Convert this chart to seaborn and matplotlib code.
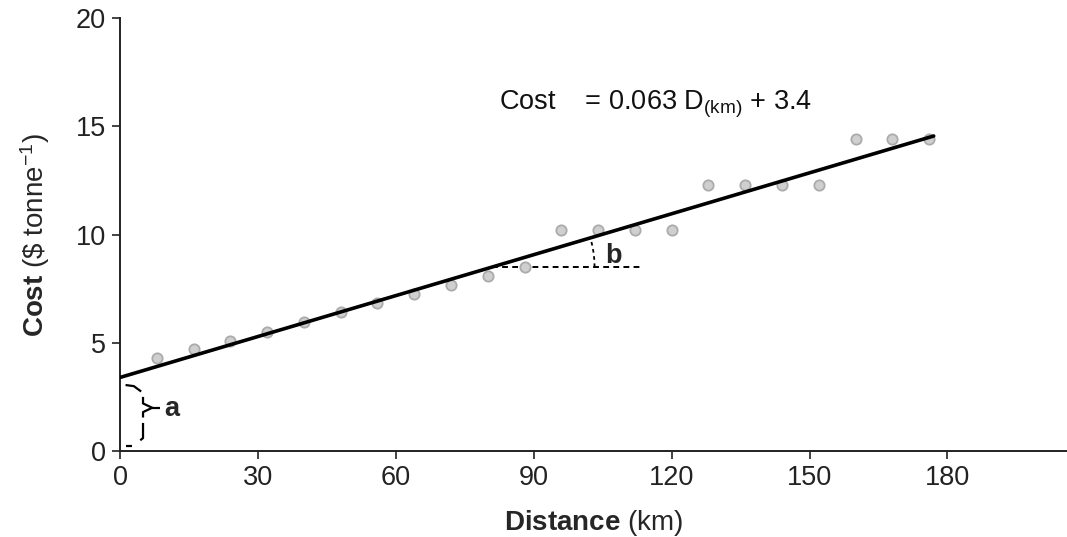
import matplotlib
matplotlib.use("Agg")
import matplotlib.pyplot as plt
import numpy as np
import pandas as pd
import seaborn as sns

# data
distance = [8, 16, 24, 32, 40, 48, 56, 64, 72, 80, 88,
            96, 104, 112, 120, 128, 136, 144, 152, 160, 168, 176]
cost = [4.3, 4.7, 5.1, 5.5, 5.95, 6.4, 6.85, 7.25, 7.65, 8.1, 8.5,
        10.2, 10.2, 10.2, 10.2, 12.3, 12.3, 12.3, 12.3, 14.4, 14.4, 14.4]
fit_x = [0, 177]
fit_y = [3.4, 14.55]
x_ticks = [0, 30, 60, 90, 120, 150, 180]
y_ticks = [0, 5, 10, 15, 20]

sns.set_style("ticks")
plt.rcParams['font.family'] = ['Liberation Sans', 'DejaVu Sans']
plt.rcParams['mathtext.fontset'] = 'custom'
plt.rcParams['mathtext.rm'] = 'Liberation Sans'
plt.rcParams['mathtext.bf'] = 'Liberation Sans:bold'
plt.rcParams['mathtext.it'] = 'Liberation Sans:italic'

df = pd.DataFrame({'Distance': distance, 'Cost': cost})
fit = pd.DataFrame({'x': fit_x, 'y': fit_y})

fig = plt.figure(figsize=(10.67, 5.37), dpi=100)
ax = fig.add_axes([0.1125, 0.160, 0.8875, 0.8065])

sns.scatterplot(data=df, x='Distance', y='Cost', ax=ax, s=55,
                color='#cfcfcf', edgecolor='#ababab', linewidth=1.3, zorder=2)
sns.lineplot(data=fit, x='x', y='y', ax=ax, color='black', linewidth=2.6, zorder=3)

ax.set_xlim(0, 206)
ax.set_ylim(0, 20)
ax.set_xticks(x_ticks)
ax.set_yticks(y_ticks)
ax.tick_params(labelsize=19.5, colors='#222222', length=6, width=1.2, pad=4)
sns.despine(ax=ax)
for s in ['left', 'bottom']:
    ax.spines[s].set_linewidth(1.4)
    ax.spines[s].set_color('#222222')

ax.set_xlabel(r"$\mathbf{Distance}$ (km)", fontsize=20, labelpad=12)
ax.set_ylabel(r"$\mathbf{Cost}$ (\$ tonne$^{\mathregular{-1}}$)", fontsize=20, labelpad=17)

# equation
ax.text(82.5, 16.0, r"Cost    = 0.063 D$_{\mathregular{(km)}}$ + 3.4", fontsize=19.5,
        va='center', ha='left', color='#111111')

# slope marker b
x0, y0 = 81, 8.5
ax.plot([x0, 113.5], [y0, y0], ls=(0, (3, 2.2)), color='black', lw=1.4, zorder=1)
xs_px, ys_px = 4.59, 21.65
theta = np.linspace(0, np.arctan(0.063 * ys_px / xs_px), 20)
r = 102
ax.plot(x0 + r * np.cos(theta) / xs_px, y0 + r * np.sin(theta) / ys_px,
        ls=(0, (2, 2)), color='black', lw=1.3)
ax.text(105.5, 9.0, "b", fontsize=19.5, fontweight='bold', va='center')

# intercept bracket a (drawn in broken pieces)
brace = [
    ([1.2, 3.0, 4.6], [3.05, 3.0, 2.75]),
    ([5.0, 5.0, 7.0, 5.0, 5.0], [2.5, 2.2, 2.0, 1.8, 1.55]),
    ([7.0, 8.6], [2.0, 2.0]),
    ([5.0, 5.0, 4.4], [1.3, 0.6, 0.5]),
    ([1.3, 2.6], [0.25, 0.25]),
]
for bx, by in brace:
    ax.plot(bx, by, color='black', lw=1.6, solid_capstyle='butt')
ax.text(9.6, 1.95, "a", fontsize=19.5, fontweight='bold', va='center')

fig.savefig("out.png", dpi=100)
